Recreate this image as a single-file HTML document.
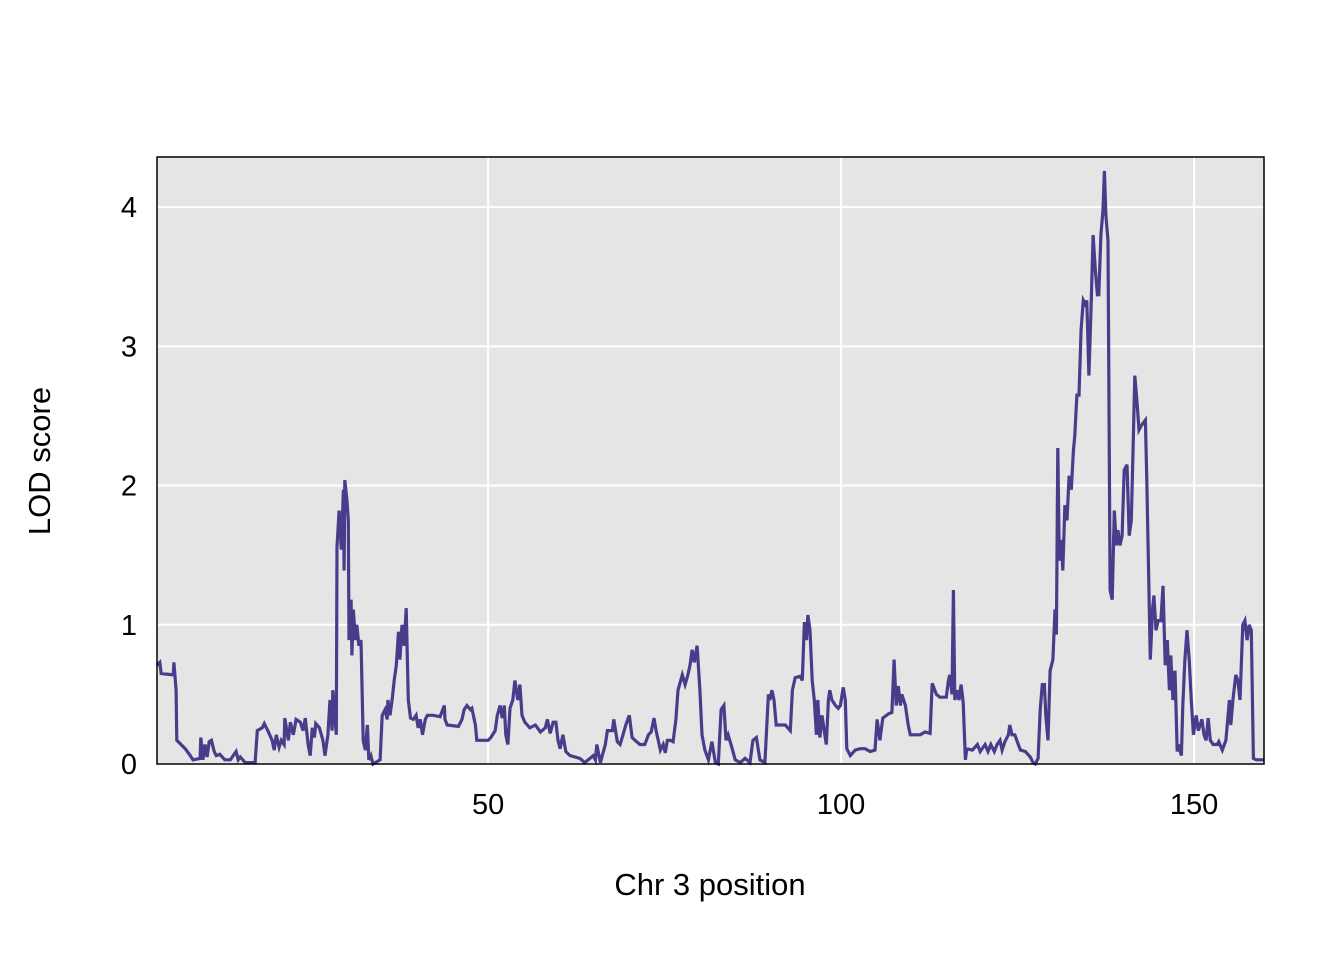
<!DOCTYPE html>
<html><head><meta charset="utf-8"><style>
html,body{margin:0;padding:0;background:#fff;}
svg{display:block;font-family:"Liberation Sans",Arial,sans-serif;}
</style></head><body>
<svg id="chart" width="1344" height="960" viewBox="0 0 1344 960" xmlns="http://www.w3.org/2000/svg">
<rect x="157" y="157" width="1107" height="607" fill="#e5e5e5"/>
<g id="grid"></g>
<g id="series"></g>
<rect x="157" y="157" width="1107" height="607" fill="none" stroke="#000" stroke-width="1.5"/>
<g id="ticks"></g>
<text x="710" y="895" font-size="31" text-anchor="middle">Chr 3 position</text>
<text transform="translate(50,461) rotate(-90)" font-size="31" text-anchor="middle">LOD score</text>
</svg>
<script>
const xTicks = [50, 100, 150];
const yTicks = [0, 1, 2, 3, 4];
const positions = [3.1,3.5,3.7,5.4,5.5,5.8,5.9,7.1,7.8,8.2,9.2,9.3,9.6,9.9,10.2,10.5,10.8,11.2,11.5,12.0,12.7,13.5,13.9,14.3,14.6,14.9,15.6,16.6,17.0,17.3,18.0,18.3,18.8,19.4,19.7,20.0,20.4,20.7,21.1,21.2,21.7,22.0,22.4,22.8,23.4,23.8,24.1,24.5,24.8,25.1,25.4,25.6,26.1,26.6,26.9,27.3,27.6,27.9,28.0,28.5,28.6,28.9,29.2,29.5,29.6,29.7,30.0,30.2,30.3,30.6,30.7,30.9,31.2,31.4,31.7,32.0,32.3,32.6,32.9,33.1,33.4,33.7,34.7,35.0,35.4,35.7,35.8,36.1,36.4,36.7,37.0,37.3,37.5,37.8,38.1,38.4,38.7,39.0,39.4,39.8,40.1,40.4,40.7,41.1,41.4,42.2,43.2,43.8,43.9,44.2,45.8,46.3,46.6,47.0,47.5,47.7,48.2,48.4,50.0,50.4,51.0,51.3,51.7,52.0,52.3,52.5,52.8,53.1,53.5,53.8,54.2,54.5,54.8,55.2,55.9,56.7,57.4,58.1,58.4,58.8,59.2,59.6,59.9,60.2,60.6,61.0,61.6,63.0,63.7,64.9,65.2,65.4,65.9,66.6,66.9,67.6,67.8,68.3,68.7,69.1,69.5,70.0,70.4,70.8,71.5,72.2,72.7,73.1,73.5,73.8,74.4,74.8,75.1,75.4,75.8,76.2,76.6,76.9,77.5,77.9,78.3,78.6,78.9,79.2,79.6,80.0,80.3,80.7,81.2,81.7,82.2,82.6,83.0,83.4,83.7,84.0,84.4,85.0,85.7,86.4,87.1,87.5,88.0,88.5,89.2,89.7,89.9,90.2,90.5,90.8,92.1,92.8,93.1,93.5,94.2,94.5,94.8,95.1,95.3,95.6,95.9,96.2,96.5,96.7,97.0,97.3,97.6,97.9,98.2,98.4,98.7,99.2,99.6,99.9,100.3,100.6,100.8,101.3,102.0,102.7,103.4,104.1,104.8,105.1,105.5,105.9,106.7,107.2,107.5,107.8,108.1,108.4,108.6,109.1,109.5,109.8,111.2,111.9,112.6,112.9,113.5,114.0,114.9,115.2,115.4,115.7,115.9,116.1,116.4,116.7,117.0,117.3,117.6,117.8,118.6,119.3,119.7,120.4,120.8,121.2,121.7,122.1,122.5,122.8,123.2,123.7,123.9,124.2,124.6,125.1,125.4,126.1,126.8,127.2,127.5,127.9,128.2,128.5,128.8,129.0,129.3,129.6,130.0,130.3,130.5,130.7,130.9,131.2,131.4,131.7,132.0,132.3,132.6,132.9,133.1,133.4,133.7,134.0,134.3,134.6,134.8,135.1,135.4,135.7,136.0,136.3,136.5,136.8,137.1,137.3,137.5,137.8,138.1,138.4,138.7,139.0,139.2,139.5,139.8,140.1,140.5,140.8,141.1,141.4,141.6,141.9,142.2,142.5,143.1,143.3,143.8,144.1,144.3,144.6,144.9,145.3,145.6,145.9,146.2,146.5,146.7,147.0,147.3,147.6,147.8,148.2,148.4,148.7,149.0,149.3,149.6,149.9,150.3,150.6,151.1,151.4,151.7,152.0,152.3,152.7,153.3,153.5,154.0,154.5,155.0,155.2,155.5,155.9,156.2,156.5,156.9,157.2,157.5,157.8,158.1,158.4,158.8,159.9];
const lodScores = [0.71,0.73,0.65,0.64,0.73,0.53,0.17,0.11,0.06,0.03,0.04,0.19,0.03,0.14,0.05,0.16,0.17,0.09,0.06,0.07,0.03,0.03,0.06,0.09,0.03,0.05,0.01,0.01,0.01,0.24,0.26,0.29,0.24,0.17,0.10,0.21,0.12,0.17,0.14,0.33,0.17,0.30,0.21,0.32,0.30,0.24,0.33,0.14,0.06,0.26,0.19,0.29,0.26,0.17,0.06,0.21,0.46,0.24,0.53,0.21,1.56,1.82,1.54,1.97,1.39,2.04,1.90,1.75,0.89,1.18,0.78,1.11,0.89,1.00,0.85,0.89,0.17,0.10,0.28,0.03,0.06,0,0.03,0.35,0.39,0.32,0.46,0.35,0.46,0.60,0.71,0.95,0.75,1.00,0.85,1.12,0.46,0.33,0.32,0.35,0.26,0.32,0.21,0.32,0.35,0.35,0.34,0.42,0.32,0.28,0.27,0.32,0.39,0.42,0.39,0.40,0.28,0.17,0.17,0.19,0.24,0.35,0.42,0.33,0.42,0.21,0.14,0.40,0.46,0.60,0.46,0.57,0.35,0.30,0.26,0.28,0.23,0.26,0.32,0.22,0.30,0.30,0.17,0.11,0.21,0.09,0.06,0.04,0.01,0.06,0.03,0.14,0.01,0.14,0.24,0.24,0.32,0.16,0.14,0.21,0.28,0.35,0.19,0.17,0.14,0.14,0.21,0.23,0.33,0.24,0.10,0.14,0.08,0.17,0.17,0.16,0.32,0.53,0.64,0.57,0.64,0.71,0.82,0.73,0.85,0.53,0.21,0.10,0.03,0.16,0.01,0,0.39,0.42,0.17,0.21,0.14,0.03,0.01,0.04,0.01,0.17,0.19,0.03,0.01,0.50,0.46,0.53,0.46,0.28,0.28,0.24,0.53,0.62,0.63,0.60,1.02,0.89,1.07,0.96,0.60,0.46,0.21,0.46,0.19,0.35,0.24,0.14,0.46,0.53,0.46,0.42,0.40,0.42,0.55,0.46,0.11,0.06,0.10,0.11,0.11,0.09,0.10,0.32,0.17,0.33,0.36,0.37,0.75,0.42,0.56,0.42,0.50,0.42,0.28,0.21,0.21,0.23,0.22,0.58,0.50,0.48,0.48,0.60,0.64,0.50,1.25,0.46,0.53,0.46,0.57,0.44,0.03,0.11,0.10,0.14,0.09,0.14,0.09,0.14,0.09,0.14,0.17,0.10,0.16,0.21,0.28,0.21,0.21,0.14,0.10,0.09,0.05,0.01,0,0.04,0.39,0.57,0.57,0.35,0.17,0.67,0.75,1.11,0.93,2.27,1.46,1.61,1.39,1.86,1.75,2.07,1.97,2.25,2.36,2.65,2.65,3.12,3.33,3.30,3.33,2.79,3.26,3.80,3.55,3.37,3.37,3.80,3.98,4.26,3.94,3.76,1.25,1.18,1.82,1.57,1.68,1.57,1.64,2.11,2.15,1.64,1.75,2.36,2.79,2.61,2.40,2.43,2.47,2.04,0.75,1.11,1.21,0.96,1.03,1.03,1.28,0.71,0.89,0.53,0.78,0.46,0.67,0.09,0.14,0.06,0.42,0.75,0.96,0.75,0.46,0.21,0.35,0.24,0.32,0.21,0.17,0.33,0.17,0.14,0.14,0.16,0.10,0.17,0.46,0.28,0.46,0.64,0.60,0.46,1.00,1.03,0.89,1.00,0.96,0.04,0.03,0.03];

const NS = 'http://www.w3.org/2000/svg';
const X0 = 157, X1 = 1264, Y0 = 764, Y1 = 157;
const xMin = 3.1, xMax = 159.9, yMin = 0, yMax = 4.36;
function xScale(v){ return X0 + (v - xMin) / (xMax - xMin) * (X1 - X0); }
function yScale(v){ return Y0 - (v - yMin) / (yMax - yMin) * (Y0 - Y1); }

const grid = document.getElementById('grid');
const ticks = document.getElementById('ticks');
xTicks.forEach(t => {
  const l = document.createElementNS(NS, 'line');
  
  
  l.setAttribute('x1', xScale(t)); l.setAttribute('x2', xScale(t));
  l.setAttribute('y1', Y1); l.setAttribute('y2', Y0);
  l.setAttribute('stroke', '#fff'); l.setAttribute('stroke-width', '2');
  grid.appendChild(l);
  const tx = document.createElementNS(NS, 'text');
  
  
  tx.setAttribute('x', xScale(t)); tx.setAttribute('y', 814);
  tx.setAttribute('font-size', '29'); tx.setAttribute('text-anchor', 'middle');
  tx.textContent = t;
  ticks.appendChild(tx);
});
yTicks.forEach(t => {
  const l = document.createElementNS(NS, 'line');
  
  
  l.setAttribute('x1', X0); l.setAttribute('x2', X1);
  l.setAttribute('y1', yScale(t)); l.setAttribute('y2', yScale(t));
  l.setAttribute('stroke', '#fff'); l.setAttribute('stroke-width', '2');
  grid.appendChild(l);
  const tx = document.createElementNS(NS, 'text');
  
  
  tx.setAttribute('x', 137); tx.setAttribute('y', yScale(t) + 10);
  tx.setAttribute('font-size', '29'); tx.setAttribute('text-anchor', 'end');
  tx.textContent = t;
  ticks.appendChild(tx);
});

const pts = positions.map((p, i) => xScale(p).toFixed(1) + ',' + yScale(lodScores[i]).toFixed(1));
const line = document.createElementNS(NS, 'polyline');


line.setAttribute('points', pts.join(' '));
line.setAttribute('fill', 'none');
line.setAttribute('stroke', '#483d8b');
line.setAttribute('stroke-width', '3.2');
line.setAttribute('stroke-linejoin', 'miter');
document.getElementById('series').appendChild(line);
</script>
</body></html>
